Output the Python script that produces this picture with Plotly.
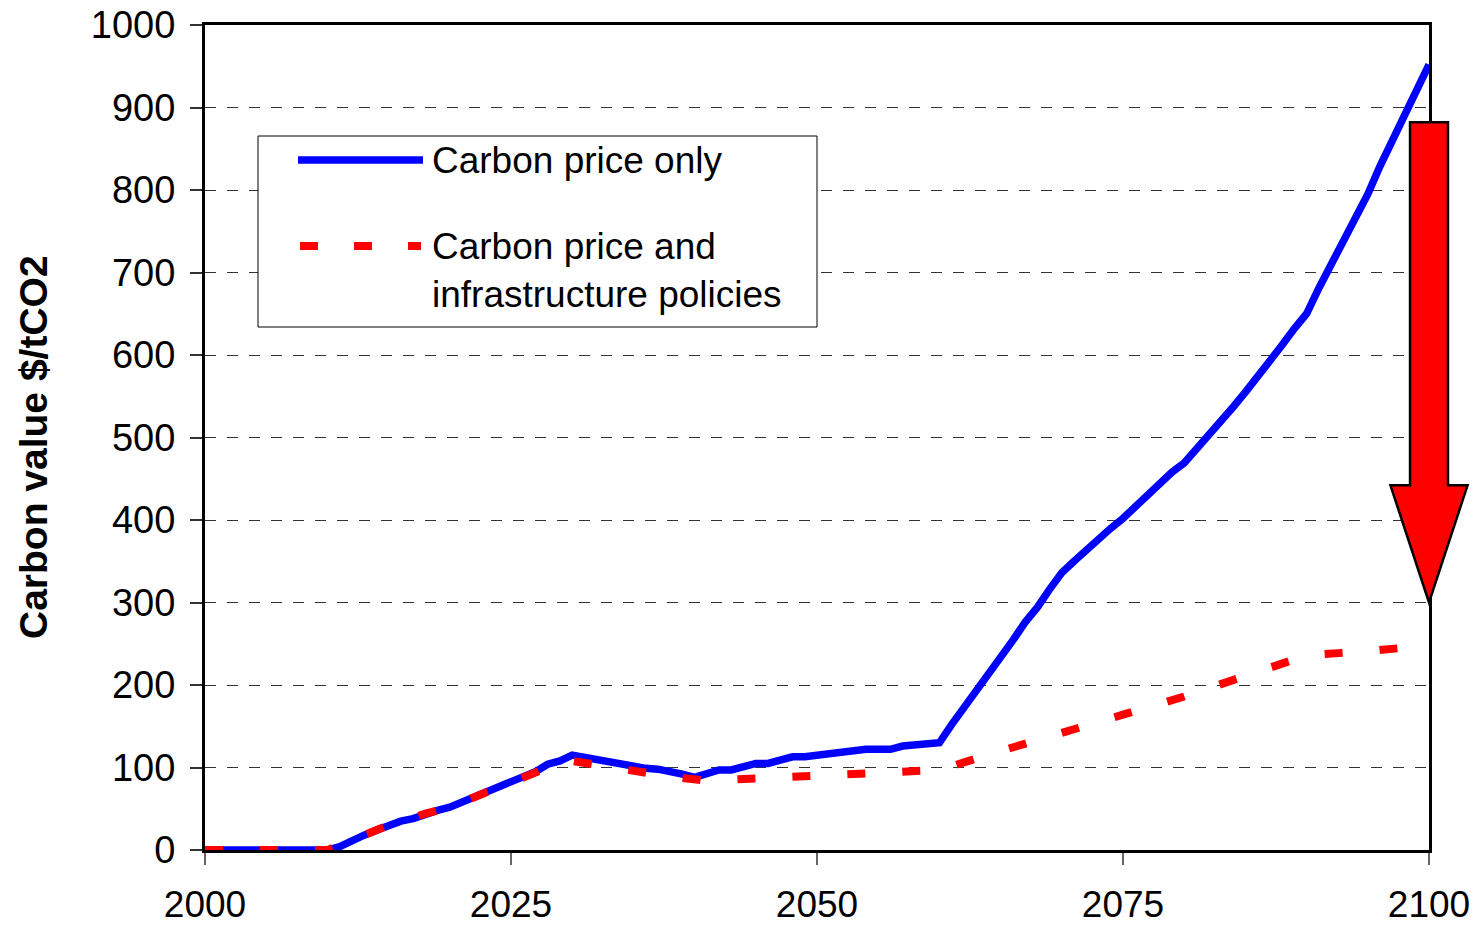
import plotly.graph_objects as go

# ---- data -------------------------------------------------------------
years_price_only = [2000, 2005, 2010, 2011, 2012, 2013, 2014, 2015, 2016, 2017, 2018, 2019,
                    2020, 2021, 2022, 2023, 2024, 2025, 2026, 2027, 2028, 2029,
                    2030, 2031, 2032, 2033, 2034, 2035, 2036, 2037, 2038, 2039,
                    2040, 2041, 2042, 2043, 2044, 2045, 2046, 2047, 2048, 2049,
                    2050, 2051, 2052, 2053, 2054, 2055, 2056, 2057, 2058, 2059,
                    2060, 2061, 2062, 2063, 2064, 2065, 2066, 2067, 2068, 2069,
                    2070, 2071, 2072, 2073, 2074, 2075, 2076, 2077, 2078, 2079,
                    2080, 2081, 2082, 2083, 2084, 2085, 2086, 2087, 2088, 2089,
                    2090, 2091, 2092, 2093, 2094, 2095, 2096, 2097, 2098, 2099, 2100]
price_only = [0, 0, 0, 4, 12, 18, 24, 30, 35, 38, 44, 48,
              52, 58, 64, 70, 76, 82, 88, 95, 104, 108,
              115, 112, 109, 108, 104, 100, 99, 98, 96, 92,
              88, 93, 97, 97, 101, 105, 105, 109, 113, 113,
              115, 116, 119, 119, 122, 122, 122, 126, 127, 130,
              130, 152, 172, 194, 213, 234, 254, 276, 294, 316,
              336, 350, 364, 376, 390, 402, 417, 429, 444, 458,
              469, 486, 502, 520, 537, 555, 573, 592, 612, 632,
              650, 681, 710, 738, 766, 795, 829, 860, 891, 921, 952]

years_with_infra = [2000, 2010, 2012, 2015, 2018, 2020, 2022, 2025, 2028, 2030,
                    2032, 2035, 2038, 2041, 2045, 2050, 2055, 2060, 2065, 2070,
                    2075, 2080, 2085, 2090, 2095, 2100]
price_with_infra = [0, 0, 12, 30, 44, 52, 64, 82, 100, 108,
                    103, 95, 89, 84, 87, 90, 93, 97, 120, 143,
                    164, 186, 211, 236, 241, 248]

series_names = ["Carbon price only", "Carbon price and<br>infrastructure policies"]
x_ticks = [2000, 2025, 2050, 2075, 2100]
y_ticks = list(range(0, 1001, 100))
y_title = "Carbon value $/tCO2"

X_RANGE = [2000, 2100]
Y_RANGE = [0, 1000]

# downward arrow at the end of the horizon (data units)
arrow_x = 2100
arrow_top, arrow_neck, arrow_tip = 882, 442, 300
shaft_half, head_half = 1.55, 3.15

# ---- geometry ---------------------------------------------------------
W, H = 1477, 927
M_L, M_R, M_T, M_B = 205, 48, 25, 77
AREA_W = W - M_L - M_R
AREA_H = H - M_T - M_B


def px_x(px):
    return (px - M_L) / AREA_W


def px_y(py):
    return (H - M_B - py) / AREA_H


def data_x(v):
    return (v - X_RANGE[0]) / (X_RANGE[1] - X_RANGE[0])


def data_y(v):
    return (v - Y_RANGE[0]) / (Y_RANGE[1] - Y_RANGE[0])


FONT = "Liberation Sans, Arial, sans-serif"
BLUE = "#0000FF"
RED = "#FF0000"

fig = go.Figure()

fig.add_trace(go.Scatter(
    x=years_price_only, y=price_only, mode="lines",
    line=dict(color=BLUE, width=7.5), name=series_names[0],
    showlegend=False, hoverinfo="skip"))

fig.add_trace(go.Scatter(
    x=years_with_infra, y=price_with_infra, mode="lines",
    line=dict(color=RED, width=8, dash="18px,37px"), name=series_names[1],
    showlegend=False, hoverinfo="skip"))

fig.update_layout(
    width=W, height=H,
    margin=dict(l=M_L, r=M_R, t=M_T, b=M_B),
    paper_bgcolor="white", plot_bgcolor="white",
    showlegend=False,
    xaxis=dict(range=X_RANGE, tickvals=x_ticks, automargin=False,
               ticks="outside", ticklen=12, tickwidth=1.5, tickcolor="#666666",
               showline=True, linecolor="black", linewidth=3, mirror=True,
               showgrid=False, zeroline=False,
               tickfont=dict(family=FONT, size=37, color="black"),
               ticklabelstandoff=8),
    yaxis=dict(range=Y_RANGE, tickvals=y_ticks, automargin=False,
               ticks="outside", ticklen=12, tickwidth=1.5, tickcolor="#333333",
               showline=True, linecolor="black", linewidth=3, mirror=True,
               showgrid=True, gridcolor="#333333", gridwidth=1,
               griddash="11px,11px", zeroline=False,
               tickfont=dict(family=FONT, size=38, color="black"),
               ticklabelstandoff=7),
)

# ---- arrow (paper units so it may overhang the frame) -----------------
arrow_pts = [(arrow_x - shaft_half, arrow_top), (arrow_x + shaft_half, arrow_top),
             (arrow_x + shaft_half, arrow_neck), (arrow_x + head_half, arrow_neck),
             (arrow_x, arrow_tip), (arrow_x - head_half, arrow_neck),
             (arrow_x - shaft_half, arrow_neck)]
arrow_path = "M " + " L ".join(f"{data_x(a):.5f},{data_y(b):.5f}" for a, b in arrow_pts) + " Z"
fig.add_shape(type="path", xref="paper", yref="paper", path=arrow_path,
              fillcolor=RED, line=dict(color="black", width=2.5), layer="above")

# ---- legend box -------------------------------------------------------
fig.add_shape(type="rect", xref="paper", yref="paper",
              x0=px_x(258), x1=px_x(817), y0=px_y(327), y1=px_y(136),
              fillcolor="white", line=dict(color="black", width=1), layer="above")
fig.add_shape(type="line", xref="paper", yref="paper",
              x0=px_x(298), x1=px_x(423), y0=px_y(160), y1=px_y(160),
              line=dict(color=BLUE, width=7.5), layer="above")
fig.add_shape(type="line", xref="paper", yref="paper",
              x0=px_x(300), x1=px_x(421), y0=px_y(246), y1=px_y(246),
              line=dict(color=RED, width=8, dash="18px,36px"), layer="above")

legend_font = dict(family=FONT, size=37, color="black")
fig.add_annotation(xref="paper", yref="paper", x=px_x(430), y=px_y(160),
                   text=series_names[0], showarrow=False,
                   xanchor="left", yanchor="middle", font=legend_font)
fig.add_annotation(xref="paper", yref="paper", x=px_x(430), y=px_y(270),
                   text=series_names[1], showarrow=False, align="left",
                   xanchor="left", yanchor="middle", font=legend_font)

# ---- y-axis title -----------------------------------------------------
fig.add_annotation(xref="paper", yref="paper", x=px_x(34), y=px_y(447),
                   text="<b>" + y_title + "</b>", showarrow=False, textangle=-90,
                   xanchor="center", yanchor="middle",
                   font=dict(family=FONT, size=39, color="black"))

fig.write_html("out.html")
